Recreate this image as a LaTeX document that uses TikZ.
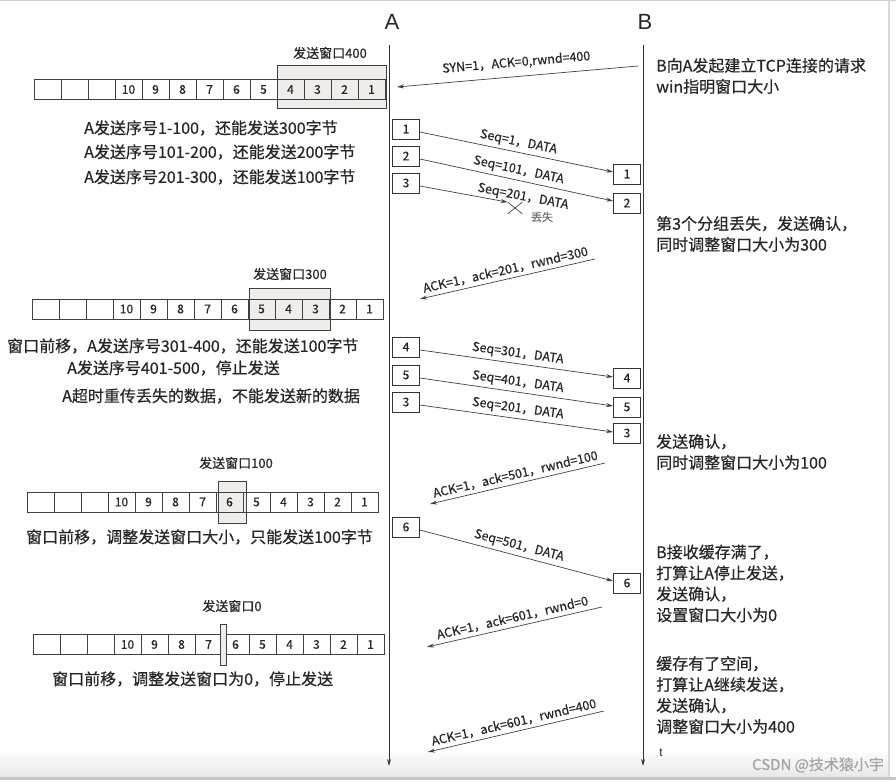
\documentclass[tikz,border=0pt]{standalone}
\usepackage{fontspec}
\setmainfont{Noto Sans CJK SC}[FakeBold=0.5]
\newfontfamily\latinfont{Liberation Sans}
\usepackage{tikz}
\usetikzlibrary{arrows.meta, shapes.misc}
\definecolor{inkGray}{HTML}{262626}
\definecolor{winFill}{HTML}{EEEDEC}
\tikzset{
  host/.style={font=\latinfont\fontsize{22}{22}\selectfont, text=inkGray},
  life/.style={-{Stealth[length=7pt, width=4pt]}, line width=1pt, black!80},
  cell/.style={draw=black!75, line width=0.6pt, minimum width=27pt, minimum height=20pt,
    inner sep=0pt, font=\fontsize{12}{12}\selectfont, text=inkGray},
  win/.style={draw=black!75, fill=winFill, line width=0.6pt},
  winlabel/.style={font=\fontsize{13}{13}\selectfont, text=inkGray},
  pkt/.style={draw=black!80, line width=0.8pt, fill=white, minimum width=27pt, minimum height=20pt,
    inner sep=0pt, font=\fontsize{12}{12}\selectfont, text=inkGray},
  msg/.style={-{Stealth[length=7pt, width=4pt]}, line width=0.7pt, black!75},
  lbl/.style={font=\fontsize{12.5}{12.5}\selectfont, text=inkGray},
  info/.style={font=\fontsize{16}{16}\selectfont, anchor=west, inner sep=0pt, text=inkGray},
  note/.style={font=\fontsize{16}{21}\selectfont, align=left, anchor=west, inner sep=0pt, text=inkGray}
}

\begin{document}
\begin{tikzpicture}[x=1pt, y=-1pt]
    \useasboundingbox (0,0) rectangle (896,781);

    % screenshot frame
    \fill[top color=white, bottom color=gray!18] (0,748) rectangle (889,777);
    \fill[gray!45] (0,777) rectangle (896,779.5);
    \draw[gray!35, line width=1.5pt] (0,0.75) -- (896,0.75);
    \draw[gray!30, line width=2pt] (889,0) -- (889,777);

    % the two hosts and their time lines
    \node[host] (hA) at (392,22) {A};
    \node[host] (hB) at (645,22) {B};
    \coordinate (aTop) at (389,45);
    \coordinate (aEnd) at (389,766);
    \coordinate (bTop) at (643,45);
    \coordinate (bEnd) at (643,766);
    \draw[life] (aTop) -- (aEnd);
    \draw[life] (bTop) -- (bEnd);
    \node[font=\latinfont\fontsize{12}{12}\selectfont, text=inkGray] (tAxis) at (661,753) {t};

    % send windows
    \draw[win] (277,65) rectangle (386,108);
    \draw[win] (249,288) rectangle (330,330);
    \draw[win] (218,481) rectangle (246,523);
    \node[winlabel] (wa) at (330,53) {发送窗口400};
    \node[winlabel] (wb) at (290,274) {发送窗口300};
    \node[winlabel] (wc) at (236,463) {发送窗口100};
    \node[winlabel] (wd) at (232,606) {发送窗口0};

    % send buffers
    \foreach \r/\x/\y in {a/34/89.5, b/32/309, c/27/502, d/33/644.5}
        \foreach \i in {0,...,12} {
            \pgfmathtruncatemacro{\num}{13-\i}
            \node[cell] (r\r\i) at ({\x+13.5+27*\i}, \y) {\ifnum\i>2 \num\fi};
        }
    \draw[win] (220,624) rectangle (226,665);

    % what A does
    \node[info] (ta1) at (84,128) {A发送序号1-100，还能发送300字节};
    \node[info] (ta2) at (84,152) {A发送序号101-200，还能发送200字节};
    \node[info] (ta3) at (84,177) {A发送序号201-300，还能发送100字节};
    \node[info] (tb1) at (7,346) {窗口前移，A发送序号301-400，还能发送100字节};
    \node[info] (tb2) at (67,368) {A发送序号401-500，停止发送};
    \node[info] (tb3) at (62,396) {A超时重传丢失的数据，不能发送新的数据};
    \node[info] (tc1) at (26,537) {窗口前移，调整发送窗口大小，只能发送100字节};
    \node[info] (td1) at (52,679) {窗口前移，调整发送窗口为0，停止发送};

    % what B does
    \node[note] (nb1) at (656,76) {B向A发起建立TCP连接的请求\\win指明窗口大小};
    \node[note] (nb2) at (656,234) {第3个分组丢失，发送确认，\\同时调整窗口大小为300};
    \node[note] (nb3) at (656,452) {发送确认，\\同时调整窗口大小为100};
    \node[note] (nb4) at (656,583.5) {B接收缓存满了，\\打算让A停止发送，\\发送确认，\\设置窗口大小为0};
    \node[note] (nb5) at (656,695) {缓存有了空间，\\打算让A继续发送，\\发送确认，\\调整窗口大小为400};

    % segments
    \node[pkt] (pa1) at (406,129) {1};
    \node[pkt] (pa2) at (406,156) {2};
    \node[pkt] (pa3) at (406,183) {3};
    \node[pkt] (pb1) at (627,174) {1};
    \node[pkt] (pb2) at (627,203) {2};
    \node[pkt] (pa4) at (406,347) {4};
    \node[pkt] (pa5) at (406,375) {5};
    \node[pkt] (pa3r) at (406,402) {3};
    \node[pkt] (pb4) at (627,378) {4};
    \node[pkt] (pb5) at (627,407) {5};
    \node[pkt] (pb3r) at (627,433) {3};
    \node[pkt] (pa6) at (406,527) {6};
    \node[pkt] (pb6) at (627,583) {6};

    % connection request
    \coordinate (synS) at (638,66);
    \coordinate (synE) at (397,87);
    \draw[msg] (synS) -- (synE) node[midway, above=4pt, sloped, lbl] {SYN=1，ACK=0,rwnd=400};

    % data
    \draw[msg] ([yshift=-3pt]pa1.east) -- ([yshift=2pt]pb1.west)
        node[midway, above, sloped, lbl] {Seq=1，DATA};
    \draw[msg] ([yshift=-3pt]pa2.east) -- ([yshift=2pt]pb2.west)
        node[midway, above, sloped, lbl] {Seq=101，DATA};
    \node[cross out, draw=black!75, line width=0.7pt, minimum width=14pt, minimum height=11pt,
        inner sep=0pt] (lost) at (515,208) {};
    \draw[msg] ([yshift=-3pt]pa3.east) -- (lost.north west);
    \node[lbl, rotate=-11] (lostSeq) at (523,197) {Seq=201，DATA};
    \node[font=\fontsize{11}{11}\selectfont, text=black!55] (lostNote) at (542,217) {丢失};

    \draw[msg] ([yshift=-3pt]pa4.east) -- ([yshift=1pt]pb4.west)
        node[midway, above, sloped, lbl] {Seq=301，DATA};
    \draw[msg] ([yshift=-3pt]pa5.east) -- ([yshift=1pt]pb5.west)
        node[midway, above, sloped, lbl] {Seq=401，DATA};
    \draw[msg] ([yshift=-3pt]pa3r.east) -- ([yshift=1pt]pb3r.west)
        node[midway, above, sloped, lbl] {Seq=201，DATA};
    \draw[msg] ([yshift=-3pt]pa6.east) -- ([yshift=2pt]pb6.west)
        node[midway, above, sloped, lbl] {Seq=501，DATA};

    % acknowledgements
    \coordinate (k1s) at (595,259);
    \coordinate (k1e) at (420,299);
    \coordinate (k2s) at (605,463);
    \coordinate (k2e) at (430,504);
    \coordinate (k3s) at (602,607);
    \coordinate (k3e) at (427,647);
    \coordinate (k4s) at (604,711);
    \coordinate (k4e) at (428,752);
    \draw[msg] (k1s) -- (k1e) node[midway, above, sloped, lbl] {ACK=1，ack=201，rwnd=300};
    \draw[msg] (k2s) -- (k2e) node[midway, above, sloped, lbl] {ACK=1，ack=501，rwnd=100};
    \draw[msg] (k3s) -- (k3e) node[midway, above, sloped, lbl] {ACK=1，ack=601，rwnd=0};
    \draw[msg] (k4s) -- (k4e) node[midway, above, sloped, lbl] {ACK=1，ack=601，rwnd=400};

    \node[font=\fontsize{15}{15}\selectfont, text=black!35] (mark) at (818,765) {CSDN @技术猿小宇};
\end{tikzpicture}
\end{document}
